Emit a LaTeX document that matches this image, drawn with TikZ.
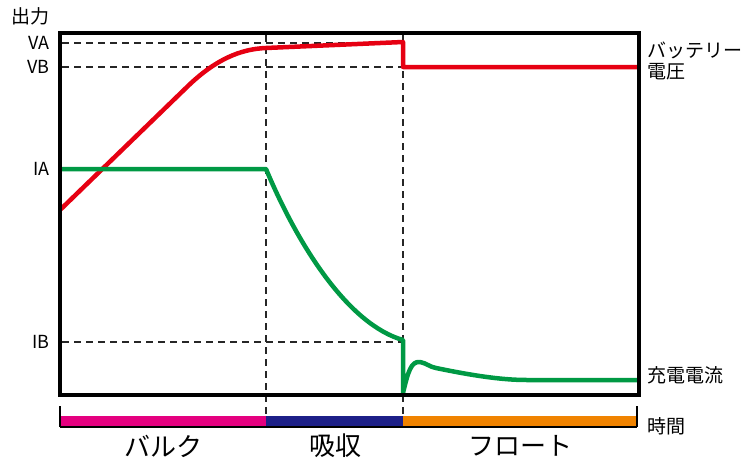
\documentclass[tikz,border=0pt]{standalone}
\usepackage{fontspec}
\setmainfont{Noto Sans CJK JP}
\definecolor{vred}{HTML}{E60012}
\definecolor{igreen}{HTML}{009944}
\definecolor{bpink}{HTML}{E4007F}
\definecolor{anavy}{HTML}{1D2088}
\definecolor{forange}{HTML}{F08300}
\tikzset{
  frame/.style={line width=4.5pt, black},
  guide/.style={line width=1.3pt, black!85, dash pattern=on 7pt off 5pt},
  curve/.style={line width=4.5pt, line join=round},
  lbl/.style={inner sep=0pt, font=\fontsize{19}{22}\selectfont},
  axl/.style={inner sep=0pt, anchor=east, font=\fontsize{18}{20}\selectfont},
  phase/.style={inner sep=0pt, font=\fontsize{26}{28}\selectfont},
  tick/.style={line width=1.4pt, black}
}
\begin{document}
\begin{tikzpicture}[x=1pt,y=-1pt]
\useasboundingbox (0,0) rectangle (749,466);
% guides
\coordinate (vaL) at (62,43); \coordinate (vaR) at (403,43);
\coordinate (vbL) at (62,67); \coordinate (vbR) at (403,67);
\coordinate (ibL) at (62,342); \coordinate (ibR) at (403,342);
\coordinate (d1T) at (266,35); \coordinate (d1B) at (266,427);
\coordinate (d2T) at (403,35); \coordinate (d2B) at (403,427);
\draw[guide] (vaL) -- (vaR);
\draw[guide] (vbL) -- (vbR);
\draw[guide] (ibL) -- (ibR);
\draw[guide] (d1T) -- (d1B);
\draw[guide] (d2T) -- (d2B);
% phase bar
\fill[bpink] (60,416) rectangle (266,427);
\fill[anavy] (266,416) rectangle (403,427);
\fill[forange] (403,416) rectangle (637,427);
\coordinate (bL) at (60,427); \coordinate (bR) at (637,427);
\coordinate (tL) at (60,406); \coordinate (tR) at (637,406);
\draw[tick] (bL) -- (bR);
\draw[tick] (tL) -- (bL);
\draw[tick] (tR) -- (bR);
% battery voltage
\draw[curve, vred] (60,210) -- (188,86) .. controls (215,60) and (240,49) .. (266,48)
  -- (403,42) -- (403,67) -- (639,67);
% charge current
\draw[curve, igreen] (60,169) -- (266,169) .. controls (300,250) and (350,325) .. (403,340)
  -- (403,393) .. controls (408,372) and (411,361) .. (420,362)
  .. controls (426,363) and (430,367) .. (436,368)
  .. controls (470,375) and (500,380) .. (527,380) -- (639,380);
% frame
\draw[frame] (60,33) rectangle (639,395);
% labels
\node[lbl] (out) at (31,16) {出力};
\node[axl] (va) at (50,43) {VA};
\node[axl] (vb) at (50,67) {VB};
\node[axl] (ia) at (50,169) {IA};
\node[axl] (ib) at (50,342) {IB};
\node[lbl, anchor=west] (bat1) at (647,50) {バッテリー};
\node[lbl, anchor=west] (bat2) at (647,72) {電圧};
\node[lbl, anchor=west] (cur) at (647,375) {充電電流};
\node[lbl, anchor=west] (time) at (647,426) {時間};
\node[phase] (bulk) at (163,446) {バルク};
\node[phase] (abs) at (335,446) {吸収};
\node[phase] (flt) at (520,446) {フロート};
\end{tikzpicture}
\end{document}
